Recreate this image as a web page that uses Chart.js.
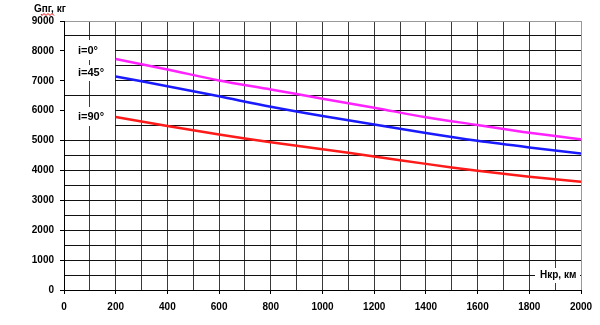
<!DOCTYPE html>
<html>
<head>
<meta charset="utf-8">
<script src="https://cdn.jsdelivr.net/npm/chart.js@4/dist/chart.umd.min.js"></script>
<style>
  body { margin: 0; background: #fff; }
  #wrap { width: 600px; height: 325px; }
</style>
</head>
<body>
<div id="wrap"><canvas id="chart" width="600" height="325"></canvas></div>
<script>
// Hкр, км
const heights = [200, 400, 600, 800, 1000, 1200, 1400, 1600, 1800, 2000];
// Gпг, кг for each inclination
const massI0 = [7730, 7380, 7010, 6710, 6400, 6100, 5780, 5520, 5260, 5040];
const massI45 = [7140, 6820, 6480, 6130, 5820, 5540, 5250, 4990, 4770, 4570];
const massI90 = [5790, 5490, 5200, 4940, 4710, 4470, 4220, 3990, 3790, 3620];

const curveLabels = ['i=0°', 'i=45°', 'i=90°'];
const yTitle = 'Gпг, кг';
const xTitle = 'Нкр, км';

const font = '"Liberation Sans", Arial, sans-serif';

function pts(arr) {
    return heights.map((h, i) => ({x: h, y: arr[i]}));
}

const notes = {
    id: 'notes',
    afterDraw(chart) {
        const ctx = chart.ctx;
        ctx.save();
        ctx.fillStyle = '#fff';
        // white boxes behind the curve names
        ctx.fillRect(65, 40, 50, 20);
        ctx.fillRect(65, 65, 50, 16);
        ctx.fillRect(65, 107, 50, 19);
        ctx.fillRect(535, 268, 45, 15);

        ctx.fillStyle = '#000';
        ctx.textBaseline = 'middle';
        ctx.font = 'bold 11px ' + font;
        ctx.fillText(curveLabels[0], 78, 51);
        ctx.fillText(curveLabels[1], 78, 73);
        ctx.fillText(curveLabels[2], 78, 117);

        ctx.font = 'bold 10px ' + font;
        ctx.fillText(xTitle, 540, 275);
        ctx.fillText(yTitle, 34, 9);

        // spellcheck squiggle under "пг"
        ctx.strokeStyle = '#e00';
        ctx.lineWidth = 1;
        ctx.beginPath();
        ctx.moveTo(41, 14);
        for (let x = 41; x <= 53; x += 2) {
            ctx.lineTo(x + 1, (x % 4 === 1) ? 15.5 : 13.5);
        }
        ctx.stroke();
        ctx.restore();
    }
};

function line(data, color) {
    return {
        data: pts(data),
        borderColor: color,
        backgroundColor: color,
        borderWidth: 2.5,
        pointRadius: 0,
        tension: 0.3,
        fill: false
    };
}

new Chart(document.getElementById('chart'), {
    type: 'line',
    data: {
        datasets: [
            line(massI0, '#ff22ff'),
            line(massI45, '#1a1aff'),
            line(massI90, '#ff1a1a')
        ]
    },
    options: {
        responsive: false,
        animation: false,
        layout: {padding: {top: 21, right: 19, left: 0, bottom: 0}},
        plugins: {legend: {display: false}, tooltip: {enabled: false}},
        scales: {
            x: {
                type: 'linear',
                min: 0,
                max: 2000,
                afterFit(s) { s.height = 35; },
                border: {color: '#000', width: 1},
                grid: {
                    color: ctx => ctx.tick && ctx.tick.value === 2000 ? '#999' : '#3a3a3a',
                    lineWidth: 1,
                    tickLength: 4,
                    tickColor: ctx => ctx.tick && ctx.tick.value % 200 === 0 ? '#000' : 'rgba(0,0,0,0)'
                },
                ticks: {
                    stepSize: 100,
                    autoSkip: false,
                    maxRotation: 0,
                    padding: 7,
                    color: '#000',
                    font: {family: font, size: 10, weight: 'bold'},
                    callback: v => v % 200 === 0 ? String(v) : ''
                }
            },
            y: {
                min: 0,
                max: 9000,
                afterFit(s) { s.width = 64; },
                border: {color: '#000', width: 1},
                grid: {
                    color: ctx => {
                        if (!ctx.tick) return '#111';
                        return ctx.tick.value === 9000 ? '#999' : '#111';
                    },
                    borderDash: ctx => ctx.tick && (ctx.tick.value === 7500 || ctx.tick.value === 4000) ? [1, 1] : [],
                    lineWidth: 1,
                    tickLength: 4,
                    tickColor: ctx => ctx.tick && ctx.tick.value % 1000 === 0 ? '#000' : 'rgba(0,0,0,0)'
                },
                ticks: {
                    stepSize: 500,
                    autoSkip: false,
                    padding: 6,
                    color: '#000',
                    font: {family: font, size: 10, weight: 'bold'},
                    callback: v => v % 1000 === 0 ? String(v) : ''
                }
            }
        }
    },
    plugins: [notes]
});
</script>
</body>
</html>
